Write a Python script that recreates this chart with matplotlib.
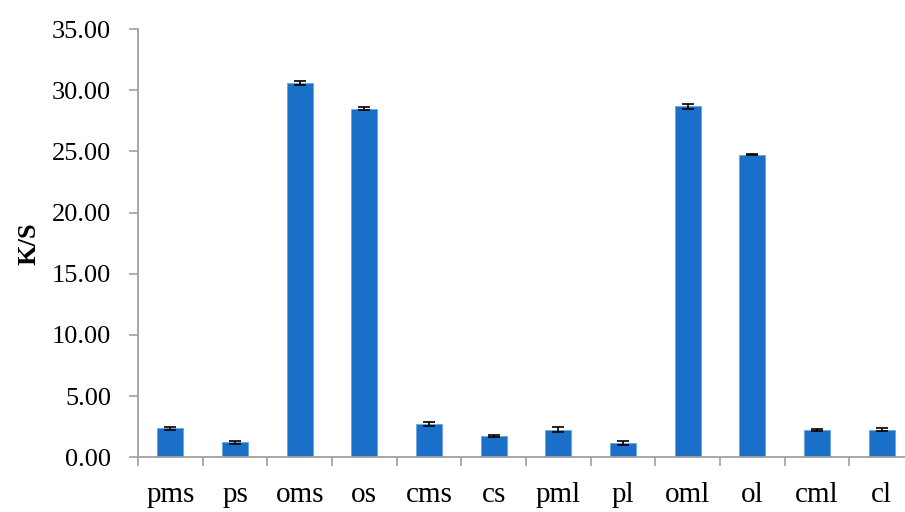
import matplotlib.pyplot as plt
import numpy as np

# K/S values per sample with standard deviations
samples = ['pms', 'ps', 'oms', 'os', 'cms', 'cs', 'pml', 'pl', 'oml', 'ol', 'cml', 'cl']
ks_values = [2.35, 1.23, 30.6, 28.48, 2.70, 1.77, 2.26, 1.17, 28.68, 24.75, 2.20, 2.26]
ks_errors = [0.10, 0.12, 0.20, 0.12, 0.15, 0.08, 0.18, 0.15, 0.18, 0.07, 0.08, 0.10]
y_ticks = [0, 5, 10, 15, 20, 25, 30, 35]

plt.rcParams['font.family'] = ['Liberation Serif', 'DejaVu Serif']

fig = plt.figure(figsize=(9.05, 5.12), dpi=100)
ax = fig.add_axes([0.1525, 0.107, 0.8575, 0.836])

x = np.arange(len(samples))
ax.bar(x, ks_values, width=0.4, color='#1a70c8', edgecolor='#6aa4dc', linewidth=0.6,
       yerr=ks_errors, capsize=4.3, error_kw={'elinewidth': 1.2, 'capthick': 1.2, 'ecolor': 'black'})

ax.set_xlim(-0.5, len(samples) - 0.5)
ax.set_ylim(0, 35)
ax.set_yticks(y_ticks)
ax.set_yticklabels([f'{v:.2f}' for v in y_ticks])
ax.set_xticks(x)
ax.set_xticklabels(samples)
ax.set_xticks(np.arange(len(samples) + 1) - 0.5, minor=True)

for side in ['top', 'right']:
    ax.spines[side].set_visible(False)
for side in ['left', 'bottom']:
    ax.spines[side].set_color('#a0a0a0')
    ax.spines[side].set_linewidth(1.3)

ax.tick_params(axis='y', direction='out', length=6.5, width=1.2, color='#a0a0a0',
               labelsize=19, pad=13)
ax.tick_params(axis='x', which='major', length=0, labelsize=21, pad=18)
ax.tick_params(axis='x', which='minor', direction='out', length=6.5, width=1.2, color='#a0a0a0')

ax.set_ylabel('K/S', fontsize=19, fontweight='bold', labelpad=8)

plt.savefig('out.png', dpi=100)
